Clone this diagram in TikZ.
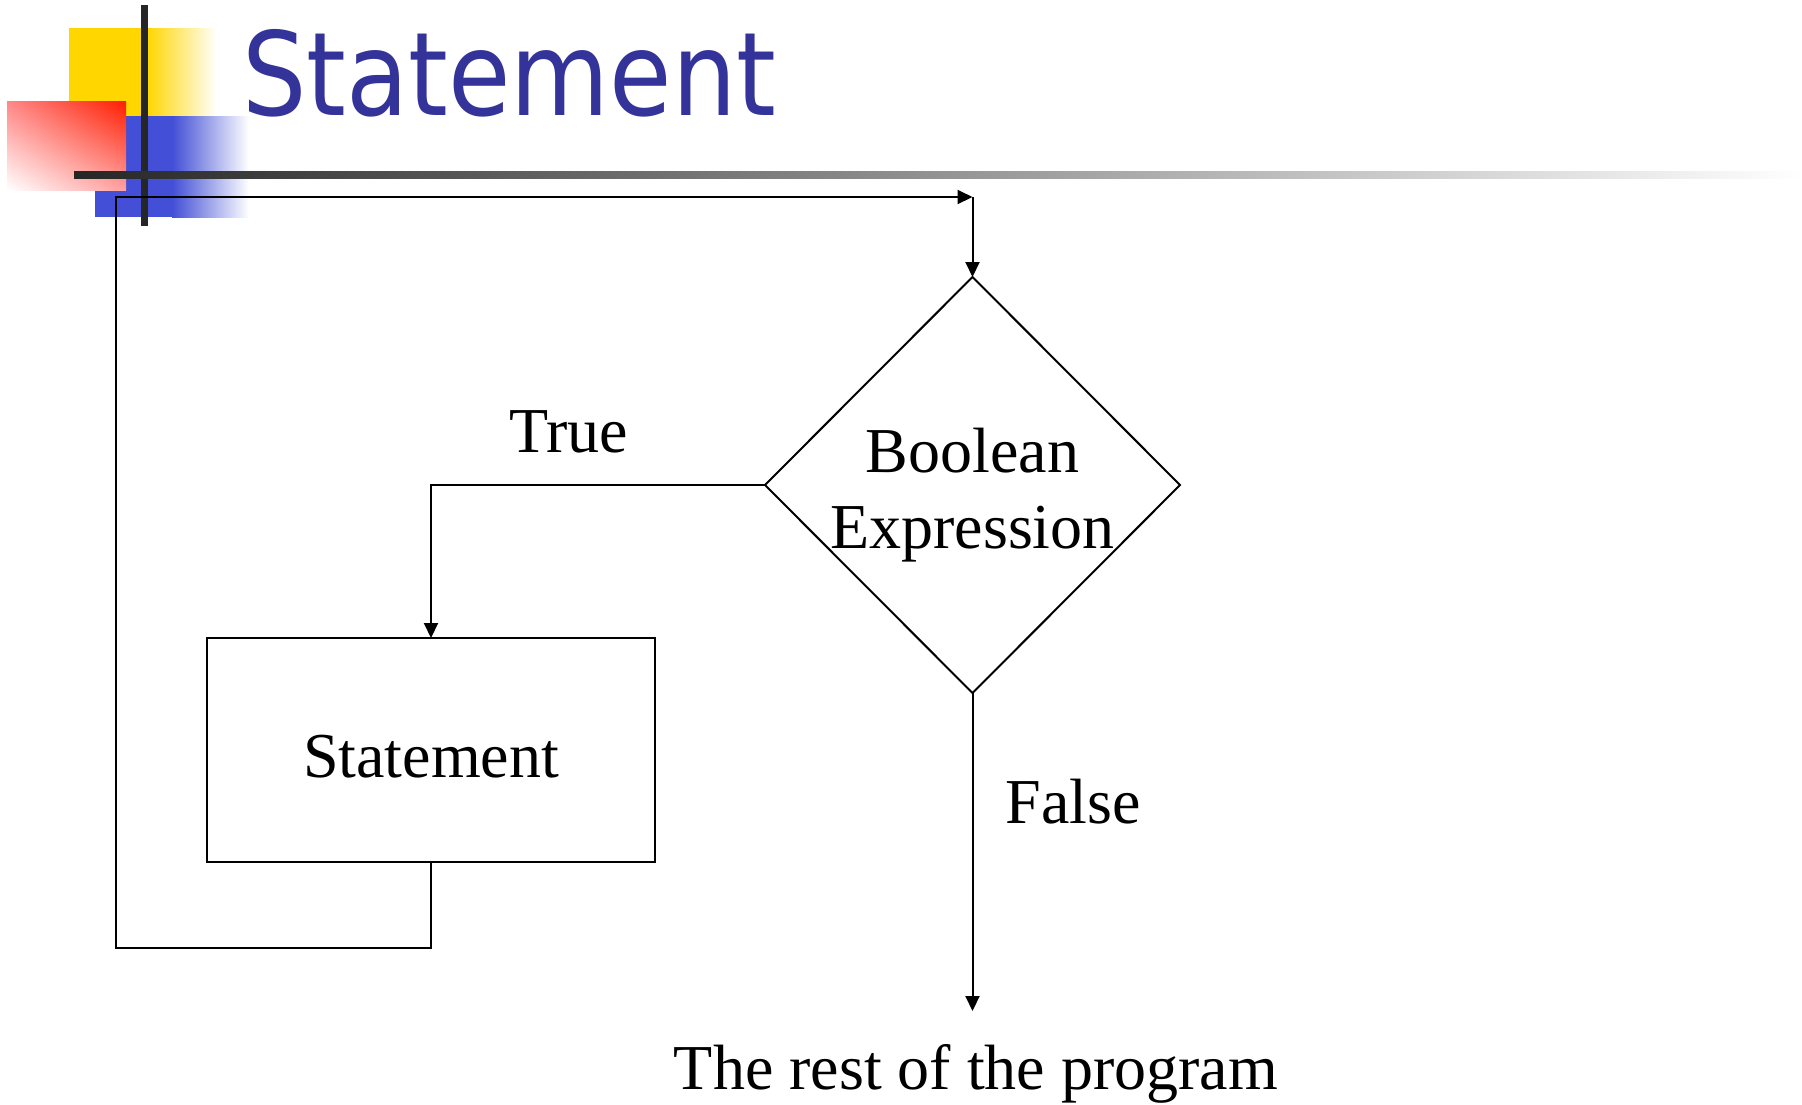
\documentclass[tikz,border=0pt]{standalone}
\usepackage{fontspec}
\setmainfont{Liberation Serif}
\newfontfamily\titlefont{DejaVu Sans}
\usetikzlibrary{shapes.geometric,arrows.meta,shadings}
\definecolor{titleblue}{RGB}{51,51,153}
\definecolor{decoyellow}{RGB}{255,214,0}
\definecolor{decoblue}{RGB}{66,79,214}
\definecolor{decored}{RGB}{255,30,0}
\definecolor{decopink}{RGB}{255,135,135}
\definecolor{decopinklight}{RGB}{255,160,160}
\definecolor{barc}{RGB}{38,38,38}
\tikzset{
  flow/.style={line width=2pt, draw=black},
  arr/.style={flow, -{Triangle[length=15pt,width=14pt]}},
  lbl/.style={font=\fontsize{64}{76}\selectfont, inner sep=0pt, outer sep=0pt},
  stmtbox/.style={flow, rectangle, minimum width=448pt, minimum height=224pt, inner sep=0pt, outer sep=0pt, text height=56pt, font=\fontsize{64}{76}\selectfont},
  decbox/.style={flow, diamond, minimum width=415pt, minimum height=416pt, inner sep=0pt, outer sep=0pt}
}
\begin{document}
\begin{tikzpicture}[x=1pt,y=-1pt]
\useasboundingbox[fill=white] (0,0) rectangle (1802,1104);
% decoration
\fill[decoyellow] (69,28) rectangle (147,116);
\shade[left color=decoyellow, right color=white] (147,28) rectangle (217,116);
\fill[decoblue] (95,116) rectangle (172,217);
\shade[left color=decoblue, right color=white] (172,116) rectangle (249,217);
\shade[upper right=decored, upper left=decopink, lower right=decopinklight, lower left=white] (7,101) rectangle (126,190);
\fill[barc] (141,5) rectangle (148,226);
\shade[left color=barc, right color=white] (74,171) rectangle (1802,178);
% title
\node[anchor=base west, inner sep=0pt, text=titleblue, font=\titlefont\fontsize{116}{130}\selectfont] (title) at (242,115) {\scalebox{0.875}[1]{Statement}};
% flowchart
\node[decbox] (dec) at (972.5,485) {};
\node[lbl, align=center] (dectext) at (972.5,495) {Boolean\\Expression};
\node[stmtbox] (stmt) at (431,750) {Statement};
\coordinate (lb) at (116,948);
\coordinate (lt) at (116,197);
\coordinate (tr) at (972.5,197);
\coordinate (endp) at (972.5,1011);
\draw[arr] (dec.west) -| (stmt.north);
\draw[arr] (stmt.south) |- (lb) -- (lt) -- (tr);
\draw[arr] (tr) -- (dec.north);
\draw[arr] (dec.south) -- (endp);
\node[lbl, anchor=base] (truelbl) at (569,452) {True};
\node[lbl, anchor=base] (falselbl) at (1073,823) {False};
\node[lbl, anchor=base] (rest) at (976,1089) {The rest of the program};
\end{tikzpicture}
\end{document}
